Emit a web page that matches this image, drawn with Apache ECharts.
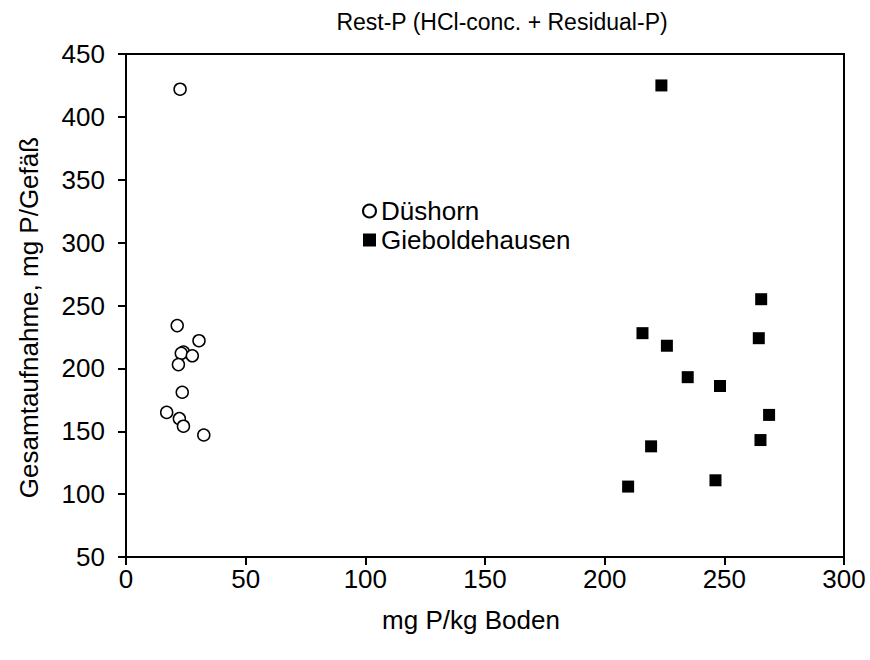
<!DOCTYPE html>
<html>
<head>
<meta charset="utf-8">
<script src="https://cdn.jsdelivr.net/npm/echarts@6/dist/echarts.min.js"></script>
<style>
  html, body { margin: 0; padding: 0; background: #fff; }
  #chart { width: 870px; height: 660px; }
</style>
</head>
<body>
<div id="chart"></div>
<script>
// x = mg P/kg Boden, y = Gesamtaufnahme, mg P/Gefäß
const duesX = [22.6, 21.4, 30.5, 24.0, 23.1, 27.7, 21.9, 23.5, 17.0, 22.3, 24.0, 32.5];
const duesY = [422, 234, 222, 213, 212, 210, 203, 181, 165, 160, 154, 147];

const giebX = [223.7, 265.4, 215.8, 264.4, 226.0, 234.7, 248.2, 268.7, 265.1, 219.4, 246.3, 209.8];
const giebY = [425, 255, 228, 224, 218, 193, 186, 163, 143, 138, 111, 106];

const xTicks = [0, 50, 100, 150, 200, 250, 300];
const yTicks = [50, 100, 150, 200, 250, 300, 350, 400, 450];

const font = "Liberation Sans, Arial, sans-serif";
const pairs = (xs, ys) => xs.map((x, i) => [x, ys[i]]);

const chart = echarts.init(document.getElementById("chart"), null, { renderer: "svg" });

chart.setOption({
  animation: false,
  backgroundColor: "#fff",
  title: {
    text: "Rest-P (HCl-conc. + Residual-P)",
    left: 497,
    top: 5,
    textAlign: "center",
    textStyle: { fontFamily: font, fontSize: 23, fontWeight: "normal", color: "#000" },
  },
  grid: {
    left: 126, right: 26, top: 54, bottom: 103,
    show: true, borderColor: "#000", borderWidth: 2,
  },
  legend: {
    orient: "vertical",
    left: 357,
    top: 193,
    itemWidth: 13,
    itemHeight: 13,
    itemGap: 3,
    textStyle: { fontFamily: font, fontSize: 26, color: "#000" },
    data: ["Düshorn", "Gieboldehausen"],
  },
  xAxis: {
    type: "value",
    min: xTicks[0],
    max: xTicks[xTicks.length - 1],
    interval: 50,
    name: "mg P/kg Boden",
    nameLocation: "middle",
    nameGap: 50,
    nameTextStyle: { fontFamily: font, fontSize: 26, color: "#000", padding: [0, 28, 0, 0] },
    axisLine: { lineStyle: { color: "#000", width: 2 } },
    axisTick: { show: true, length: 8, lineStyle: { color: "#000", width: 2 } },
    axisLabel: { fontFamily: font, fontSize: 26, color: "#000", margin: 9 },
    splitLine: { show: false },
  },
  yAxis: {
    type: "value",
    min: yTicks[0],
    max: yTicks[yTicks.length - 1],
    interval: 50,
    name: "Gesamtaufnahme, mg P/Gefäß",
    nameLocation: "middle",
    nameGap: 84,
    nameTextStyle: { fontFamily: font, fontSize: 26, color: "#000", padding: [0, 24, 0, 0] },
    axisLine: { lineStyle: { color: "#000", width: 2 } },
    axisTick: { show: true, length: 8, lineStyle: { color: "#000", width: 2 } },
    axisLabel: { fontFamily: font, fontSize: 26, color: "#000", margin: 21 },
    splitLine: { show: false },
  },
  series: [
    {
      name: "Düshorn",
      type: "scatter",
      symbol: "circle",
      symbolSize: 12,
      itemStyle: { color: "#fff", borderColor: "#000", borderWidth: 1.5, opacity: 1 },
      data: pairs(duesX, duesY),
    },
    {
      name: "Gieboldehausen",
      type: "scatter",
      symbol: "rect",
      symbolSize: 12,
      itemStyle: { color: "#000", opacity: 1 },
      data: pairs(giebX, giebY),
    },
  ],
});
</script>
</body>
</html>
